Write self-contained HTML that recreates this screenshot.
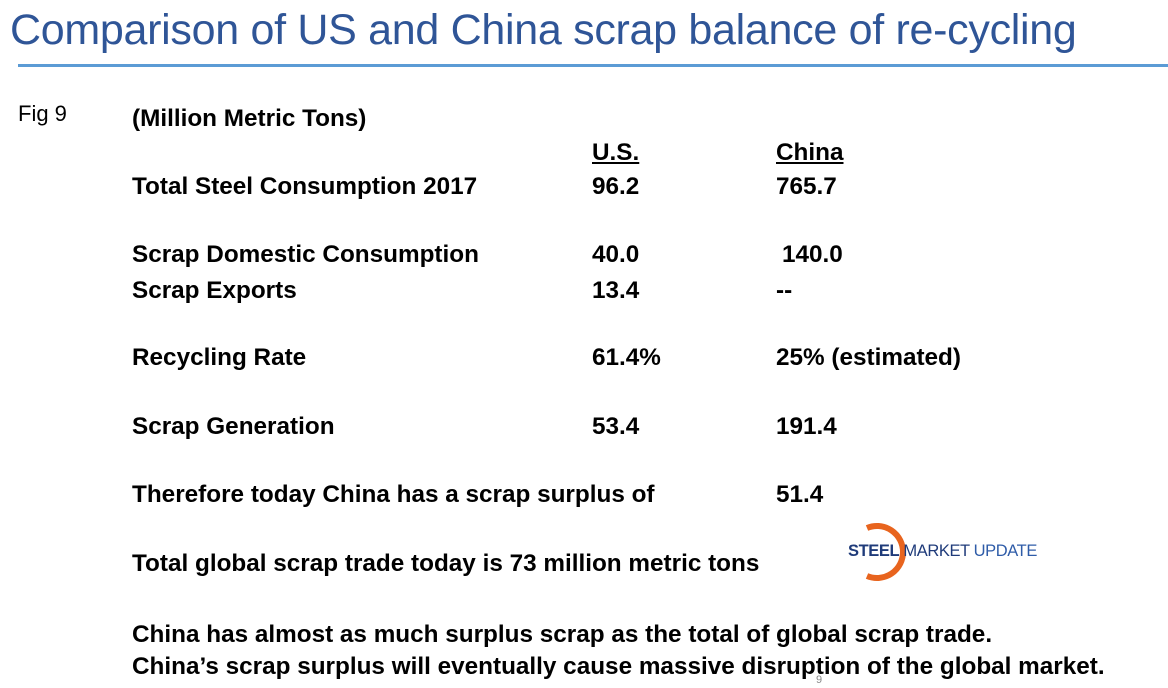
<!DOCTYPE html>
<html><head><meta charset="utf-8"><style>
body{margin:0;width:1168px;height:688px;background:#fff;position:relative;overflow:hidden;font-family:"Liberation Sans",sans-serif}
.t{position:absolute;font-weight:bold;font-size:24.3px;color:#000;white-space:nowrap;line-height:1}
.u{text-decoration:underline}
</style></head><body>
<div style="position:absolute;left:10px;top:6px;font-size:43px;color:#2f5597;white-space:nowrap;letter-spacing:-0.3px">Comparison of US and China scrap balance of re-cycling</div>
<div style="position:absolute;left:18px;top:64px;width:1150px;height:3px;background:#5b9bd5"></div>
<div style="position:absolute;left:18px;top:101px;font-size:22px">Fig 9</div>
<div class="t" style="left:132px;top:107px">(Million Metric Tons)</div>
<div class="t u" style="left:592px;top:141px">U.S.</div>
<div class="t u" style="left:776px;top:141px">China</div>
<div class="t" style="left:132px;top:175px">Total Steel Consumption 2017</div>
<div class="t" style="left:592px;top:175px">96.2</div>
<div class="t" style="left:776px;top:175px">765.7</div>
<div class="t" style="left:132px;top:243px">Scrap Domestic Consumption</div>
<div class="t" style="left:592px;top:243px">40.0</div>
<div class="t" style="left:782px;top:243px">140.0</div>
<div class="t" style="left:132px;top:279px">Scrap Exports</div>
<div class="t" style="left:592px;top:279px">13.4</div>
<div class="t" style="left:776px;top:279px">--</div>
<div class="t" style="left:132px;top:346px">Recycling Rate</div>
<div class="t" style="left:592px;top:346px">61.4%</div>
<div class="t" style="left:776px;top:346px">25% (estimated)</div>
<div class="t" style="left:132px;top:415px">Scrap Generation</div>
<div class="t" style="left:592px;top:415px">53.4</div>
<div class="t" style="left:776px;top:415px">191.4</div>
<div class="t" style="left:132px;top:483px">Therefore today China has a scrap surplus of</div>
<div class="t" style="left:776px;top:483px">51.4</div>
<div class="t" style="left:132px;top:552px">Total global scrap trade today is 73 million metric tons</div>
<div style="position:absolute;left:845px;top:518px;width:200px;height:64px">
<svg width="200" height="64" style="position:absolute;left:0;top:0"><path d="M22,10 A26,26 0 1,1 22,58" fill="none" stroke="#e8641e" stroke-width="6"/></svg>
<div style="position:absolute;left:3px;top:24px;font-size:16.5px;color:#1f3b7a;white-space:nowrap;letter-spacing:-0.4px;background:transparent"><b>STEEL</b> MARKET <span style="color:#2f5ca8">UPDATE</span></div>
</div>
<div class="t" style="left:132px;top:623px">China has almost as much surplus scrap as the total of global scrap trade.</div>
<div class="t" style="left:132px;top:655px">China’s scrap surplus will eventually cause massive disruption of the global market.</div>
<div style="position:absolute;left:816px;top:674px;font-size:11px;color:#888">9</div>
</body></html>
